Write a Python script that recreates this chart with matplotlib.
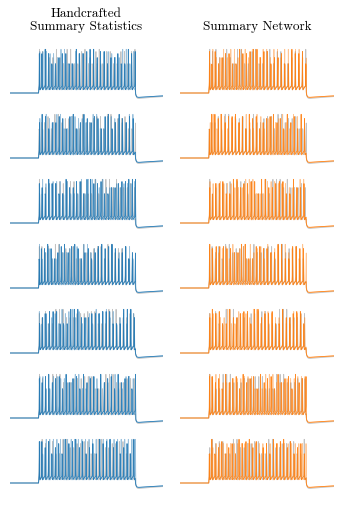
import numpy as np
import matplotlib
matplotlib.use("Agg")
import matplotlib.pyplot as plt

plt.rcParams['font.family'] = ['cmr10', 'DejaVu Serif']
plt.rcParams['axes.unicode_minus'] = False

# ---------------- data (spike times in ms) ----------------
column_titles = ["Handcrafted\nSummary Statistics", "Summary Network"]
column_colors = ["#1f77b4", "#ff7f0e"]
obs_color = "#b3b3b3"

t_start, t_end = 0.0, 150.0
stim_on, stim_off = 28.0, 123.0

OBS1 = [29.0, 31.7, 35.0, 38.4, 41.9, 45.5, 48.9, 52.6, 56.0, 59.5, 63.1, 66.6, 70.2, 73.5, 77.1, 80.6, 84.2, 87.5, 91.1, 94.7, 98.2, 101.6, 105.1, 108.7, 112.2, 115.6, 119.2, 122.5]
L1a = [28.8, 31.3, 34.5, 37.8, 41.1, 44.6, 47.9, 51.3, 54.8, 58.1, 61.6, 65.0, 68.3, 71.8, 75.2, 78.5, 82.0, 85.4, 88.7, 92.2, 95.6, 98.9, 102.4, 105.8, 109.1, 112.6, 116.0, 119.3, 122.7]
L1b = [29.2, 32.2, 35.7, 39.3, 42.8, 46.4, 50.0, 53.5, 57.1, 60.6, 64.2, 67.8, 71.3, 74.9, 78.4, 82.0, 85.6, 89.1, 92.7, 96.2, 99.8, 103.4, 106.9, 110.5, 114.0, 117.6, 121.2]
R1a = [28.7, 31.1, 34.2, 37.6, 40.9, 44.3, 47.8, 51.1, 54.6, 58.0, 61.3, 64.8, 68.2, 71.5, 75.0, 78.4, 81.7, 85.2, 88.6, 91.9, 95.4, 98.8, 102.1, 105.6, 109.0, 112.3, 115.8, 119.2, 122.6]
R1b = [29.1, 32.0, 35.4, 38.9, 42.5, 45.9, 49.5, 53.0, 56.4, 60.0, 63.5, 66.9, 70.5, 74.0, 77.4, 81.0, 84.5, 87.9, 91.5, 95.0, 98.4, 102.0, 105.5, 108.9, 112.5, 116.0, 119.4, 122.9]

OBS2 = [28.6, 30.9, 33.9, 37.2, 40.6, 44.0, 47.5, 50.9, 54.3, 57.8, 61.2, 64.6, 68.1, 71.5, 74.9, 78.4, 81.8, 85.2, 88.7, 92.1, 95.5, 99.0, 102.4, 105.8, 109.3, 112.7, 116.1, 119.6, 122.9]
L2a = [28.9, 31.5, 34.7, 38.1, 41.4, 44.9, 48.2, 51.8, 55.1, 58.7, 62.0, 65.6, 68.9, 72.5, 75.8, 79.4, 82.7, 86.3, 89.6, 93.2, 96.5, 100.1, 103.4, 107.0, 110.3, 113.9, 117.2, 120.8]
L2b = [29.3, 32.1, 35.5, 38.8, 42.4, 46.0, 49.5, 53.1, 56.6, 60.2, 63.7, 67.3, 70.8, 74.4, 77.9, 81.5, 85.0, 88.6, 92.1, 95.7, 99.2, 102.8, 106.3, 109.9, 113.4, 117.0, 120.5]
R2a = [28.6, 31.0, 34.0, 37.3, 40.5, 43.9, 47.2, 50.7, 54.0, 57.4, 60.7, 64.1, 67.5, 70.8, 74.2, 77.6, 80.9, 84.3, 87.7, 91.0, 94.4, 97.8, 101.1, 104.5, 107.9, 111.2, 114.6, 118.0, 121.3]
R2b = [29.4, 32.5, 36.1, 39.5, 43.2, 46.6, 50.3, 53.7, 57.4, 60.8, 64.5, 67.9, 71.6, 75.0, 78.7, 82.1, 85.8, 89.2, 92.9, 96.3, 100.0, 103.4, 107.1, 110.5, 114.2, 117.6, 121.3]

OBS3 = [29.0, 31.6, 34.9, 38.3, 41.8, 45.3, 48.7, 52.3, 55.7, 59.2, 62.7, 66.1, 69.7, 73.1, 76.6, 80.1, 83.5, 87.1, 90.5, 94.0, 97.5, 100.9, 104.5, 107.9, 111.4, 114.9, 118.3, 121.9]
L3a = [28.8, 31.4, 34.6, 38.0, 41.3, 44.8, 48.1, 51.6, 55.0, 58.4, 61.9, 65.2, 68.7, 72.1, 75.5, 79.0, 82.3, 85.8, 89.2, 92.6, 96.1, 99.4, 102.9, 106.3, 109.7, 113.2, 116.5, 120.0, 123.0]
L3b = [29.1, 32.0, 35.3, 38.8, 42.2, 45.7, 49.2, 52.6, 56.2, 59.6, 63.1, 66.6, 70.0, 73.6, 77.0, 80.5, 84.0, 87.4, 91.0, 94.4, 97.9, 101.4, 104.8, 108.4, 111.8, 115.3, 118.8, 122.2]
R3a = [28.9, 31.6, 34.8, 38.3, 41.7, 45.1, 48.6, 52.0, 55.5, 58.9, 62.3, 65.8, 69.2, 72.7, 76.1, 79.5, 83.0, 86.4, 89.9, 93.3, 96.7, 100.2, 103.6, 107.1, 110.5, 113.9, 117.4, 120.8]
R3b = [29.2, 32.3, 35.8, 39.2, 42.8, 46.3, 49.8, 53.4, 56.9, 60.4, 64.0, 67.5, 71.0, 74.6, 78.1, 81.6, 85.2, 88.7, 92.2, 95.8, 99.3, 102.8, 106.4, 109.9, 113.4, 117.0, 120.5]

OBS4 = [28.7, 31.2, 34.4, 37.7, 41.1, 44.5, 48.0, 51.4, 54.8, 58.3, 61.7, 65.1, 68.6, 72.0, 75.4, 78.9, 82.3, 85.7, 89.2, 92.6, 96.0, 99.5, 102.9, 106.3, 109.8, 113.2, 116.6, 120.1]
L4a = [28.6, 30.8, 33.8, 37.0, 40.3, 43.6, 46.9, 50.2, 53.5, 56.9, 60.2, 63.5, 66.8, 70.1, 73.4, 76.8, 80.1, 83.4, 86.7, 90.0, 93.3, 96.7, 100.0, 103.3, 106.6, 109.9, 113.2, 116.6, 119.9, 122.9]
L4b = [29.0, 31.6, 34.9, 38.3, 41.6, 45.1, 48.5, 51.9, 55.4, 58.8, 62.2, 65.7, 69.1, 72.5, 76.0, 79.4, 82.8, 86.3, 89.7, 93.1, 96.6, 100.0, 103.4, 106.9, 110.3, 113.7, 117.2, 120.6]
R4a = [29.0, 31.8, 35.2, 38.7, 42.2, 45.8, 49.3, 52.9, 56.4, 60.0, 63.5, 67.1, 70.6, 74.2, 77.7, 81.3, 84.8, 88.4, 91.9, 95.5, 99.0, 102.6, 106.1, 109.7, 113.2, 116.8, 120.3]
R4b = [28.8, 31.3, 34.6, 37.9, 41.3, 44.7, 48.1, 51.5, 54.9, 58.3, 61.7, 65.1, 68.5, 71.9, 75.3, 78.7, 82.1, 85.5, 88.9, 92.3, 95.7, 99.1, 102.5, 105.9, 109.3, 112.7, 116.1, 119.5, 122.9]

OBS5 = [28.8, 31.4, 34.7, 38.1, 41.6, 45.0, 48.5, 52.0, 55.4, 58.9, 62.4, 65.8, 69.3, 72.8, 76.2, 79.7, 83.2, 86.6, 90.1, 93.6, 97.0, 100.5, 104.0, 107.4, 110.9, 114.4, 117.8, 121.3]
L5a = [29.1, 31.9, 35.3, 38.7, 42.2, 45.7, 49.1, 52.6, 56.1, 59.5, 63.0, 66.5, 69.9, 73.4, 76.9, 80.3, 83.8, 87.3, 90.7, 94.2, 97.7, 101.1, 104.6, 108.1, 111.5, 115.0, 118.5, 121.9]
L5b = [28.7, 31.1, 34.3, 37.6, 40.9, 44.3, 47.6, 51.0, 54.3, 57.7, 61.0, 64.4, 67.7, 71.1, 74.4, 77.8, 81.1, 84.5, 87.8, 91.2, 94.5, 97.9, 101.2, 104.6, 107.9, 111.3, 114.6, 118.0, 121.3]
R5a = [28.9, 31.5, 34.8, 38.2, 41.6, 45.1, 48.5, 51.9, 55.4, 58.8, 62.2, 65.7, 69.1, 72.5, 76.0, 79.4, 82.8, 86.3, 89.7, 93.1, 96.6, 100.0, 103.4, 106.9, 110.3, 113.7, 117.2, 120.6]
R5b = [29.3, 32.3, 35.8, 39.4, 42.9, 46.5, 50.1, 53.6, 57.2, 60.8, 64.3, 67.9, 71.5, 75.0, 78.6, 82.2, 85.7, 89.3, 92.9, 96.4, 100.0, 103.6, 107.1, 110.7, 114.3, 117.8, 121.4]

OBS6 = [29.0, 31.8, 35.1, 38.6, 42.0, 45.5, 49.0, 52.4, 55.9, 59.4, 62.8, 66.3, 69.8, 73.2, 76.7, 80.2, 83.6, 87.1, 90.6, 94.0, 97.5, 101.0, 104.4, 107.9, 111.4, 114.8, 118.3, 121.8]
L6a = [28.8, 31.4, 34.7, 38.0, 41.4, 44.8, 48.2, 51.6, 55.0, 58.4, 61.8, 65.2, 68.6, 72.0, 75.4, 78.8, 82.2, 85.6, 89.0, 92.4, 95.8, 99.2, 102.6, 106.0, 109.4, 112.8, 116.2, 119.6, 123.0]
L6b = [29.2, 32.2, 35.6, 39.1, 42.7, 46.2, 49.8, 53.3, 56.9, 60.4, 64.0, 67.5, 71.1, 74.6, 78.2, 81.7, 85.3, 88.8, 92.4, 95.9, 99.5, 103.0, 106.6, 110.1, 113.7, 117.2, 120.8]
R6a = [28.7, 31.2, 34.4, 37.8, 41.1, 44.5, 47.9, 51.3, 54.7, 58.1, 61.5, 64.9, 68.3, 71.7, 75.1, 78.5, 81.9, 85.3, 88.7, 92.1, 95.5, 98.9, 102.3, 105.7, 109.1, 112.5, 115.9, 119.3, 122.7]
R6b = [29.0, 31.7, 35.0, 38.5, 41.9, 45.4, 48.9, 52.3, 55.8, 59.3, 62.7, 66.2, 69.7, 73.1, 76.6, 80.1, 83.5, 87.0, 90.5, 93.9, 97.4, 100.9, 104.3, 107.8, 111.3, 114.7, 118.2, 121.7]

OBS7 = [28.9, 31.5, 34.8, 38.2, 41.7, 45.1, 48.6, 52.0, 55.5, 58.9, 62.4, 65.8, 69.3, 72.7, 76.2, 79.6, 83.1, 86.5, 90.0, 93.4, 96.9, 100.3, 103.8, 107.2, 110.7, 114.1, 117.6, 121.0]
L7a = [28.7, 31.2, 34.4, 37.7, 41.1, 44.4, 47.8, 51.1, 54.5, 57.8, 61.2, 64.5, 67.9, 71.2, 74.6, 77.9, 81.3, 84.6, 88.0, 91.3, 94.7, 98.0, 101.4, 104.7, 108.1, 111.4, 114.8, 118.1, 121.5]
L7b = [29.2, 32.1, 35.5, 39.0, 42.5, 46.0, 49.5, 53.0, 56.5, 60.0, 63.5, 67.0, 70.5, 74.0, 77.5, 81.0, 84.5, 88.0, 91.5, 95.0, 98.5, 102.0, 105.5, 109.0, 112.5, 116.0, 119.5, 123.0]
R7a = [28.6, 31.0, 34.1, 37.4, 40.7, 44.1, 47.4, 50.8, 54.1, 57.5, 60.8, 64.2, 67.5, 70.9, 74.2, 77.6, 80.9, 84.3, 87.6, 91.0, 94.3, 97.7, 101.0, 104.4, 107.7, 111.1, 114.4, 117.8, 121.1]
R7b = [29.1, 31.9, 35.3, 38.8, 42.3, 45.8, 49.3, 52.8, 56.3, 59.8, 63.3, 66.8, 70.3, 73.8, 77.3, 80.8, 84.3, 87.8, 91.3, 94.8, 98.3, 101.8, 105.3, 108.8, 112.3, 115.8, 119.3, 122.8]

observed = [OBS1, OBS2, OBS3, OBS4, OBS5, OBS6, OBS7]
left_samples = [[L1a, L1b], [L2a, L2b], [L3a, L3b], [L4a, L4b], [L5a, L5b], [L6a, L6b], [L7a, L7b]]
right_samples = [[R1a, R1b], [R2a, R2b], [R3a, R3b], [R4a, R4b], [R5a, R5b], [R6a, R6b], [R7a, R7b]]

# membrane levels (mV)
V_REST, V_THR, V_AHP, V_PEAK = -70.0, -48.0, -66.0, 42.0
V_DIP_SAMPLE, V_DIP_OBS = -82.0, -85.0


def voltage(spikes, dip, dt=0.25):
    t = np.arange(t_start, t_end + dt / 2, dt)
    sp = np.asarray(spikes)
    v = np.full_like(t, V_REST)
    during = (t >= stim_on) & (t < stim_off)
    idx = np.searchsorted(sp, t, side='right') - 1
    for i in np.where(during)[0]:
        if idx[i] < 0:
            v[i] = V_REST + (V_THR - V_REST) * (1 - np.exp(-(t[i] - stim_on) / 0.4))
        else:
            tau = t[i] - sp[idx[i]]
            v[i] = V_AHP + (V_THR - V_AHP) * (1 - np.exp(-tau / 2.2))
    after = t >= stim_off
    ta = t[after] - stim_off
    v[after] = V_REST + (dip - V_REST) * (1 - np.exp(-ta / 0.8)) * np.exp(-ta / 55.0)
    for s in sp:
        d = t - s
        shape = np.where(d < 0, np.exp(-0.5 * (d / 0.1) ** 2), np.exp(-0.5 * (d / 0.15) ** 2))
        v = v + (V_PEAK - v) * shape
    return t, v


fig = plt.figure(figsize=(3.44, 5.16), dpi=100)
W, H = 344.0, 516.0
col_x = [(10, 163), (180, 334)]
ylim = (-85, 45)
px_per_mv = 0.39

for r in range(7):
    base = 93 + 65 * r
    top = base - (ylim[1] - V_REST) * px_per_mv
    bot = base + (V_REST - ylim[0]) * px_per_mv
    for c in range(2):
        x0, x1 = col_x[c]
        ax = fig.add_axes([x0 / W, 1 - bot / H, (x1 - x0) / W, (bot - top) / H])
        ax.set_xlim(t_start, t_end)
        ax.set_ylim(*ylim)
        ax.axis('off')
        t, v = voltage(observed[r], V_DIP_OBS)
        ax.plot(t, v, color=obs_color, lw=0.6, alpha=0.8, zorder=1)
        samples = left_samples[r] if c == 0 else right_samples[r]
        for k, sp in enumerate(samples):
            t, v = voltage(sp, V_DIP_SAMPLE)
            ax.plot(t, v, color=column_colors[c], lw=0.6,
                    alpha=0.9 if k == 0 else 0.45, zorder=2 + k)

fig.text(0.2515, 1 - 20 / H, column_titles[0], ha='center', va='center',
         fontsize=9.5, linespacing=1.1)
fig.text(0.747, 1 - 26.5 / H, column_titles[1], ha='center', va='center',
         fontsize=9.5)

fig.savefig("out.png", dpi=100)
